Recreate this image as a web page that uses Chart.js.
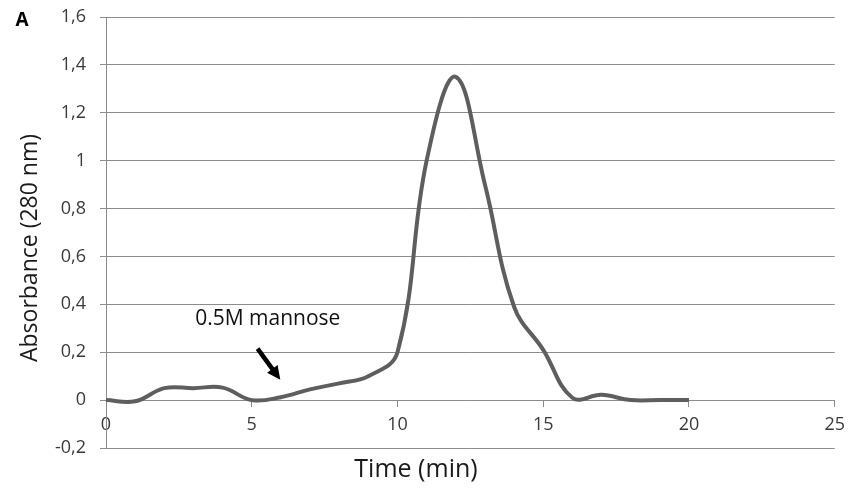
<!DOCTYPE html>
<html>
<head>
<meta charset="utf-8">
<script src="https://cdn.jsdelivr.net/npm/chart.js@4/dist/chart.umd.min.js"></script>
<style>
html,body{margin:0;padding:0;background:#fff;}
#wrap{width:853px;height:496px;position:relative;}
</style>
</head>
<body>
<div id="wrap"><canvas id="c" width="853" height="496"></canvas></div>
<script>
const timeMin = [0, 1, 2, 3, 4, 5, 6, 7, 8, 9, 10, 11, 12, 13, 14, 15, 16, 17, 18, 19, 20];
const absorbance = [0, -0.005, 0.05, 0.05, 0.052, 0.0, 0.012, 0.045, 0.07, 0.1, 0.2, 1.0, 1.35, 0.9, 0.39, 0.21, 0.01, 0.022, 0.0, 0.0, 0.0];
const yTicks = [-0.2, 0, 0.2, 0.4, 0.6, 0.8, 1, 1.2, 1.4, 1.6];
const xTicks = [0, 5, 10, 15, 20, 25];
const panelLabel = "A";
const yTitle = "Absorbance (280 nm)";
const xTitle = "Time (min)";
const annotationText = "0.5M mannose";
const annotationAt = {x: 5.55, y: 0.34};
const arrowFrom = {x: 5.2, y: 0.215};
const arrowTo = {x: 5.98, y: 0.085};

const FONT = "'Open Sans', 'DejaVu Sans', sans-serif";

const points = timeMin.map((t, i) => ({x: t, y: absorbance[i]}));

const overlay = {
  id: 'overlay',
  afterDatasetsDraw(chart) {
    const ctx = chart.ctx;
    const xs = chart.scales.x, ys = chart.scales.y;
    ctx.save();
    ctx.fillStyle = '#000';
    ctx.font = "bold 19px " + FONT;
    ctx.textAlign = 'center';
    ctx.textBaseline = 'middle';
    ctx.fillText(panelLabel, 22, 21);
    ctx.fillStyle = '#1a1a1a';
    ctx.font = "23px " + FONT;
    ctx.save();
    ctx.translate(30, 248);
    ctx.rotate(-Math.PI / 2);
    ctx.fillText(yTitle, 0, 0);
    ctx.restore();
    ctx.font = "25px " + FONT;
    ctx.fillText(xTitle, 416, 470);
    ctx.font = "21px " + FONT;
    ctx.fillStyle = '#111';
    ctx.fillText(annotationText, xs.getPixelForValue(annotationAt.x), ys.getPixelForValue(annotationAt.y));
    const x1 = xs.getPixelForValue(arrowFrom.x), y1 = ys.getPixelForValue(arrowFrom.y);
    const x2 = xs.getPixelForValue(arrowTo.x), y2 = ys.getPixelForValue(arrowTo.y);
    const ang = Math.atan2(y2 - y1, x2 - x1);
    const hl = 15;
    ctx.strokeStyle = '#000';
    ctx.lineWidth = 4.5;
    ctx.beginPath();
    ctx.moveTo(x1, y1);
    ctx.lineTo(x2 - Math.cos(ang) * 8, y2 - Math.sin(ang) * 8);
    ctx.stroke();
    ctx.fillStyle = '#000';
    ctx.beginPath();
    ctx.moveTo(x2, y2);
    ctx.lineTo(x2 - hl * Math.cos(ang - 0.45), y2 - hl * Math.sin(ang - 0.45));
    ctx.lineTo(x2 - hl * Math.cos(ang + 0.45), y2 - hl * Math.sin(ang + 0.45));
    ctx.closePath();
    ctx.fill();
    ctx.restore();
  }
};

new Chart(document.getElementById('c'), {
  type: 'line',
  data: {
    datasets: [{
      data: points,
      borderColor: '#5e5e5e',
      borderWidth: 4,
      pointRadius: 0,
      tension: 0.4,
      fill: false
    }]
  },
  options: {
    responsive: false,
    animation: false,
    events: [],
    layout: {padding: {top: 17, bottom: 48, right: 17, left: 0}},
    plugins: {legend: {display: false}, tooltip: {enabled: false}},
    scales: {
      x: {
        type: 'linear',
        min: 0, max: 25,
        position: {y: 0},
        afterBuildTicks(s) { s.ticks = xTicks.map(v => ({value: v})); },
        ticks: {
          color: '#3a3a3a',
          font: {family: FONT, size: 18},
          padding: 8,
          maxRotation: 0,
          callback: v => String(v)
        },
        grid: {drawOnChartArea: false, drawTicks: true, tickLength: 6, color: '#8c8c8c', lineWidth: 1},
        border: {display: true, color: '#8c8c8c', width: 1}
      },
      y: {
        type: 'linear',
        min: -0.2, max: 1.6,
        afterBuildTicks(s) { s.ticks = yTicks.map(v => ({value: v})); },
        afterFit(s) { s.width = 106; s.paddingTop = 0; s.paddingBottom = 0; },
        ticks: {
          color: '#3a3a3a',
          font: {family: FONT, size: 18},
          padding: 14,
          callback: v => String(Math.round(v * 10) / 10).replace('.', ',')
        },
        grid: {color: '#8c8c8c', lineWidth: 1, drawTicks: true, tickLength: 6},
        border: {display: true, color: '#8c8c8c', width: 1}
      }
    }
  },
  plugins: [overlay]
});
</script>
</body>
</html>
